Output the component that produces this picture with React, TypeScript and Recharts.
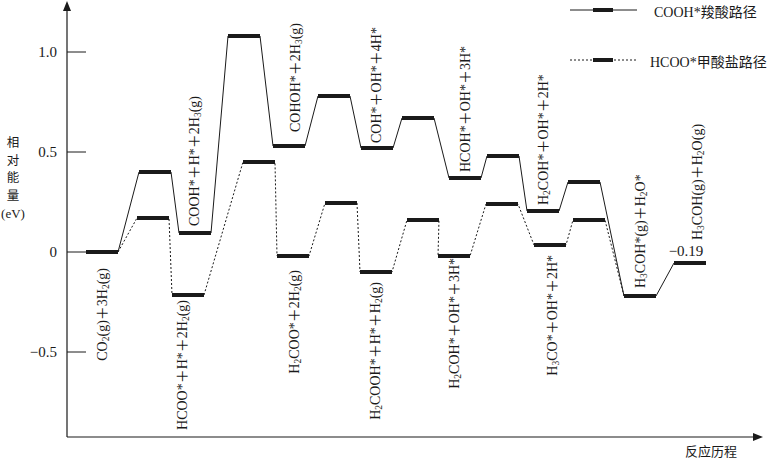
import React from 'react';
import { ComposedChart, Line, XAxis, YAxis, ReferenceLine, ReferenceDot } from 'recharts';

// reaction coordinate position (start of each level) and relative energy in eV
const levelWidth = 32;

const coohStart = [19, 72, 112, 161, 206, 251, 294, 335, 382, 420, 460, 501, 557, 607];
const coohEnergy = [0, 0.4, 0.095, 1.08, 0.53, 0.78, 0.52, 0.67, 0.37, 0.48, 0.205, 0.35, -0.22, -0.055];

// formate path shares the first and the 13th state
const hcooStart = [19, 70, 105, 176, 210, 258, 293, 340, 371, 419, 467, 506, 557];
const hcooEnergy = [0, 0.17, -0.215, 0.45, -0.02, 0.245, -0.1, 0.16, -0.02, 0.24, 0.035, 0.16, -0.22];

const yTicks = [-0.5, 0, 0.5, 1.0];
const tickLen = 19; // ticks point into the plot

// "_x" = subscript x
const stateLabels = [
  'CO_2(g)＋3H_2(g)',
  'HCOO*＋H*＋2H_2(g)',
  'COOH*＋H*＋2H_3(g)',
  'COHOH*＋2H_3(g)',
  'COH*＋OH*＋4H*',
  'HCOH*＋OH*＋3H*',
  'H_2COO*＋2H_2(g)',
  'H_2COOH*＋H*＋H_2(g)',
  'H_2COH*＋OH*＋3H*',
  'H_2COH*＋OH*＋2H*',
  'H_3CO*＋OH*＋2H*',
  'H_3COH*(g)＋H_2O*',
  'H_3COH(g)＋H_2O(g)',
];
const labelX = [35, 115, 127, 228, 309, 398, 227, 308, 387, 476, 485, 573, 630];
const labelY = [-0.08, -0.24, 0.13, 0.6, 0.545, 0.4, -0.09, -0.15, -0.03, 0.235, -0.015, -0.18, 0.06];
const labelSide = ['below', 'below', 'above', 'above', 'above', 'above', 'below', 'below', 'below', 'above', 'below', 'above', 'above'];

const finalValueLabel = '−0.19';

const toPath = (starts: number[], energies: number[]) =>
  starts.flatMap((s, i) => [
    { x: s, y: energies[i] },
    { x: s + levelWidth, y: energies[i] },
  ]);

const coohPath = toPath(coohStart, coohEnergy);
const hcooPath = toPath(hcooStart, hcooEnergy);

const serif = '"Liberation Serif", "Noto Sans CJK SC", serif';
const ink = '#1a1a1a';

function richSpans(text: string) {
  const spans: React.ReactNode[] = [];
  let buf = '';
  let shifted = false;
  let key = 0;
  const flush = () => {
    if (!buf) return;
    spans.push(
      <tspan key={key++} dy={shifted ? -3.5 : 0}>
        {buf}
      </tspan>
    );
    shifted = false;
    buf = '';
  };
  for (let i = 0; i < text.length; i++) {
    if (text[i] === '_' && i + 1 < text.length) {
      flush();
      spans.push(
        <tspan key={key++} dy={3.5} fontSize={9.5}>
          {text[i + 1]}
        </tspan>
      );
      shifted = true;
      i++;
    } else {
      buf += text[i];
    }
  }
  flush();
  return spans;
}

function StateLabel({ cx, cy, text, side }: any) {
  return (
    <text
      x={cx}
      y={cy}
      transform={`rotate(-90 ${cx} ${cy})`}
      textAnchor={side === 'above' ? 'start' : 'end'}
      dominantBaseline="central"
      fontFamily={serif}
      fontSize={14}
      fill={ink}
    >
      {richSpans(text)}
    </text>
  );
}

const fmtTick = (v: number) => (v === 0 ? '0' : v.toFixed(1).replace('-', '−'));

// inward tick mark plus its label, centred on the middle of the tick
function YTickMark({ cx, cy, value }: any) {
  const x0 = cx - tickLen / 2;
  return (
    <g>
      <line x1={x0} y1={cy} x2={x0 + tickLen} y2={cy} stroke={ink} strokeWidth={1} />
      <text x={x0 - 10} y={cy} textAnchor="end" dominantBaseline="central" fontFamily={serif} fontSize={15} fill={ink}>
        {fmtTick(value)}
      </text>
    </g>
  );
}

function Overlay() {
  return (
    <svg
      width={770}
      height={464}
      style={{ position: 'absolute', left: 0, top: 0, pointerEvents: 'none' }}
    >
      {/* legend */}
      <line x1={570} y1={10} x2={637} y2={10} stroke={ink} strokeWidth={1} />
      <line x1={593} y1={10} x2={613} y2={10} stroke={ink} strokeWidth={4} />
      <text x={654} y={12} dominantBaseline="central" fontFamily={serif} fontSize={14} fill={ink}>
        COOH*羧酸路径
      </text>
      <line x1={570} y1={60} x2={637} y2={60} stroke={ink} strokeWidth={1} strokeDasharray="2 2" />
      <line x1={593} y1={60} x2={613} y2={60} stroke={ink} strokeWidth={4} />
      <text x={650} y={62} dominantBaseline="central" fontFamily={serif} fontSize={14} fill={ink}>
        HCOO*甲酸盐路径
      </text>

      {/* axis titles */}
      {['相', '对', '能', '量'].map((c, i) => (
        <text key={c} x={13} y={143 + i * 17.5} textAnchor="middle" dominantBaseline="central"
          fontFamily={serif} fontSize={12.5} fill={ink}>
          {c}
        </text>
      ))}
      <text x={13} y={213} textAnchor="middle" dominantBaseline="central" fontFamily={serif} fontSize={13} fill={ink}>
        (eV)
      </text>
      <text x={711} y={451} textAnchor="middle" dominantBaseline="central" fontFamily={serif} fontSize={13} fill={ink}>
        反应历程
      </text>
    </svg>
  );
}

export default function App() {
  return (
    <div style={{ position: 'absolute', left: 0, top: 0, width: 770, height: 464, background: '#fff' }}>
      <ComposedChart width={770} height={464} margin={{ top: 11, right: 17, bottom: 7, left: 7 }}>
        <defs>
          <marker id="axisArrow" markerWidth={10} markerHeight={8} refX={0} refY={4}
            orient="auto-start-reverse" markerUnits="userSpaceOnUse">
            <path d="M0,0 L10,4 L0,8 Z" fill={ink} />
          </marker>
        </defs>
        <XAxis
          type="number"
          dataKey="x"
          domain={[0, 686]}
          height={20}
          tick={false}
          tickLine={false}
          axisLine={{ stroke: ink, strokeWidth: 1.2, markerEnd: 'url(#axisArrow)' }}
        />
        <YAxis
          type="number"
          domain={[-0.925, 1.205]}
          ticks={yTicks}
          width={60}
          tick={false}
          tickLine={false}
          axisLine={{ stroke: ink, strokeWidth: 1.2, markerStart: 'url(#axisArrow)' }}
        />
        {yTicks.map((t) => (
          <ReferenceDot
            key={`t${t}`}
            x={tickLen / 2}
            y={t}
            r={0}
            ifOverflow="visible"
            shape={(p: any) => <YTickMark cx={p.cx} cy={p.cy} value={t} />}
          />
        ))}
        <Line
          data={hcooPath}
          dataKey="y"
          type="linear"
          stroke={ink}
          strokeWidth={1}
          strokeDasharray="2 2"
          dot={false}
          activeDot={false}
          isAnimationActive={false}
        />
        <Line
          data={coohPath}
          dataKey="y"
          type="linear"
          stroke={ink}
          strokeWidth={1}
          dot={false}
          activeDot={false}
          isAnimationActive={false}
        />
        {hcooStart.map((s, i) => (
          <ReferenceLine
            key={`h${i}`}
            segment={[{ x: s, y: hcooEnergy[i] }, { x: s + levelWidth, y: hcooEnergy[i] }]}
            stroke={ink}
            strokeWidth={4}
          />
        ))}
        {coohStart.map((s, i) => (
          <ReferenceLine
            key={`c${i}`}
            segment={[{ x: s, y: coohEnergy[i] }, { x: s + levelWidth, y: coohEnergy[i] }]}
            stroke={ink}
            strokeWidth={4}
          />
        ))}
        {stateLabels.map((t, i) => (
          <ReferenceDot
            key={`l${i}`}
            x={labelX[i]}
            y={labelY[i]}
            r={0}
            shape={(p: any) => <StateLabel cx={p.cx} cy={p.cy} text={t} side={labelSide[i]} />}
          />
        ))}
        <ReferenceDot
          x={coohStart[13] + 12}
          y={-0.02}
          r={0}
          shape={(p: any) => (
            <text x={p.cx} y={p.cy} textAnchor="middle" fontFamily={serif} fontSize={15} fill={ink}>
              {finalValueLabel}
            </text>
          )}
        />
      </ComposedChart>
      <Overlay />
    </div>
  );
}
